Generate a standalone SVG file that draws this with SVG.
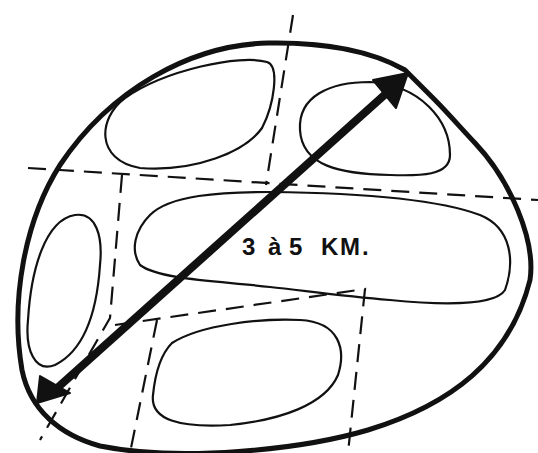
<svg xmlns="http://www.w3.org/2000/svg" width="538" height="453" viewBox="0 0 538 453">
<defs>
<style>
.outer{fill:none;stroke:#111;stroke-width:5;stroke-linecap:round;stroke-linejoin:round}
.zone{fill:none;stroke:#111;stroke-width:2.2;stroke-linejoin:round}
.dash{fill:none;stroke:#111;stroke-width:2.2;stroke-dasharray:18 10}
.arrow{fill:none;stroke:#111;stroke-width:8;stroke-linecap:butt}
.head{fill:#111;stroke:#111;stroke-width:2;stroke-linejoin:round}
.lbl{font-family:"Liberation Sans",Arial,sans-serif;font-size:24px;font-weight:bold;fill:#111}
</style>
</defs>
<rect width="538" height="453" fill="#fff"/>
<g id="dashes">
<path class="dash" d="M293,15 L266,185"/>
<path class="dash" d="M28,168 L538,200"/>
<path class="dash" d="M122,175 L110,318 L40,440"/>
<path class="dash" d="M115,325 L365,289 L348,453"/>
<path class="dash" d="M157,320 L130,453"/>
</g>
<g id="outer">
<path class="outer" d="M405,70 C370,50 320,42 268,43 C190,45 110,90 60,165 C25,220 10,300 22,370 C30,410 60,435 100,446 C180,462 300,450 368,430 C450,405 510,360 530,280 C536,240 510,180 475,143 C460,127 445,110 435,100 Z"/>
</g>
<g id="zone-top-left">
<path class="zone" d="M267,62 C240,54 165,70 125,98 C98,118 95,160 140,168 C195,172 245,152 262,128 C274,105 280,66 267,62 Z"/>
</g>
<g id="zone-top-right">
<path class="zone" d="M300,130 C298,96 330,82 370,82 C420,85 450,120 450,155 C450,176 420,176 390,175 C340,174 302,166 300,130 Z"/>
</g>
<g id="zone-middle">
<path class="zone" d="M150,215 C170,195 220,192 270,192 C360,193 440,200 480,215 C512,228 515,262 505,290 C495,306 440,305 390,300 C340,296 300,290 270,287 C220,281 160,280 140,265 C130,250 135,230 150,215 Z"/>
</g>
<g id="zone-left">
<path class="zone" d="M75,215 C96,212 103,236 100,265 C97,310 85,350 55,365 C35,373 25,350 28,320 C31,270 45,220 75,215 Z"/>
</g>
<g id="zone-bottom">
<path class="zone" d="M172,343 C200,325 260,318 300,320 C340,322 346,350 338,375 C325,405 280,420 230,425 C180,428 150,420 153,395 C155,375 160,355 172,343 Z"/>
</g>
<g id="connectors">
<line class="arrow" x1="390" y1="90" x2="55" y2="390"/>
<polygon class="head" points="408,73 373,80 396,108"/>
<polygon class="head" points="37,403 40,376 70,393"/>
</g>
<g id="label">
<text class="lbl" x="242 268 289 321 340 362" y="255">3à5KM.</text>
</g>
</svg>
